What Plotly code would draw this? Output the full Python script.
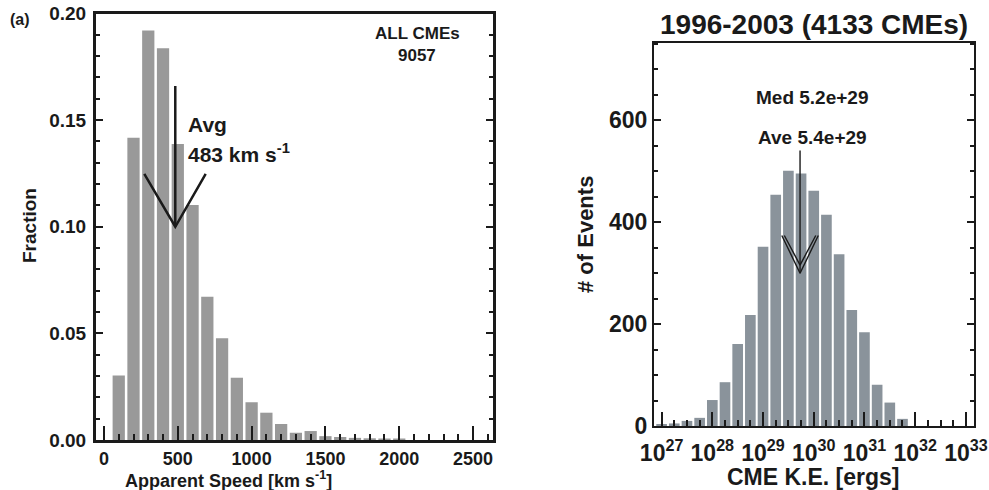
import plotly.graph_objects as go

# ---------------- data ----------------
# Panel (a): apparent speed histogram (bin centres, km/s) and fraction
speed_bins = [100, 200, 300, 400, 500, 600, 700, 800, 900, 1000, 1100, 1200,
              1300, 1400, 1500, 1600, 1700, 1800, 1900, 2000]
speed_frac = [0.0302, 0.1417, 0.1920, 0.1837, 0.1388, 0.1102, 0.0672, 0.0477,
              0.0292, 0.0177, 0.0128, 0.0075, 0.0034, 0.0042, 0.0018, 0.0014,
              0.0010, 0.0008, 0.0005, 0.0004]
avg_speed = 483

# Panel (b): CME kinetic energy histogram (log10 ergs bin centres) and counts
ke_log_bins = [27.0, 27.25, 27.5, 27.75, 28.0, 28.25, 28.5, 28.75, 29.0, 29.25,
               29.5, 29.75, 30.0, 30.25, 30.5, 30.75, 31.0, 31.25, 31.5, 31.75]
ke_counts = [2, 5, 10, 16, 51, 86, 161, 218, 352, 454,
             501, 496, 462, 415, 337, 228, 184, 81, 46, 14]
ave_ke_log = 29.73

x_ticks_a = [0, 500, 1000, 1500, 2000, 2500]
y_ticks_a = [0.00, 0.05, 0.10, 0.15, 0.20]
y_ticklabels_a = ["0.00", "0.05", "0.10", "0.15", "0.20"]
x_ticks_b = [27, 28, 29, 30, 31, 32, 33]
x_ticklabels_b = ["10<sup>%d</sup>" % v for v in x_ticks_b]
y_ticks_b = [0, 200, 400, 600]

# ---------------- styling ----------------
W, H = 989, 490
FONT = "Liberation Sans"
BLACK = "#1a1a1a"


def px(x):
    return x / W


def py(y):
    return 1 - y / H


fig = go.Figure()

fig.add_trace(go.Bar(x=speed_bins, y=speed_frac, width=83,
                     marker=dict(color="#999999", line=dict(width=0)),
                     xaxis="x", yaxis="y", showlegend=False))
fig.add_trace(go.Bar(x=ke_log_bins, y=ke_counts, width=0.21,
                     marker=dict(color="#8a939b", line=dict(width=0)),
                     xaxis="x2", yaxis="y2", showlegend=False))

# arrows as line traces
fig.add_trace(go.Scatter(
    x=[avg_speed, avg_speed, None, avg_speed - 210, avg_speed, avg_speed + 206],
    y=[0.166, 0.100, None, 0.1248, 0.100, 0.1248],
    mode="lines", line=dict(color=BLACK, width=2.5),
    xaxis="x", yaxis="y", showlegend=False, hoverinfo="skip"))
fig.add_trace(go.Scatter(
    x=[ave_ke_log, ave_ke_log, None,
       ave_ke_log - 0.36, ave_ke_log, ave_ke_log + 0.36, None,
       ave_ke_log - 0.31, ave_ke_log, ave_ke_log + 0.31],
    y=[541, 300, None, 374, 300, 374, None, 374, 316, 374],
    mode="lines", line=dict(color=BLACK, width=1.4),
    xaxis="x2", yaxis="y2", showlegend=False, hoverinfo="skip"))

tickfont_a = dict(family=FONT, size=19, color=BLACK, weight="bold")
tickfont_ax = dict(family=FONT, size=18, color=BLACK, weight="bold")
tickfont_b = dict(family=FONT, size=23, color=BLACK, weight="bold")

fig.update_layout(
    width=W, height=H,
    margin=dict(l=0, r=0, t=0, b=0, autoexpand=False),
    paper_bgcolor="white", plot_bgcolor="white",
    font=dict(family=FONT, color=BLACK),
    xaxis=dict(domain=[px(96), px(493)], range=[-54, 2635],
               tickvals=x_ticks_a, ticks="inside", ticklen=14, tickwidth=2,
               tickcolor=BLACK, showline=True, linewidth=3, linecolor=BLACK,
               mirror=True, showgrid=False, zeroline=False,
               tickfont=tickfont_ax, anchor="y", ticklabelstandoff=0,
               minor=dict(dtick=100, ticks="inside", ticklen=6, tickwidth=2,
                          tickcolor=BLACK, showgrid=False)),
    yaxis=dict(domain=[py(440), py(13.5)], range=[0, 0.2],
               tickvals=y_ticks_a, ticktext=y_ticklabels_a,
               ticks="inside", ticklen=7, tickwidth=2, tickcolor=BLACK,
               showline=True, linewidth=3, linecolor=BLACK, mirror="ticks",
               showgrid=False, zeroline=False, tickfont=tickfont_a, anchor="x",
               ticklabelstandoff=3,
               minor=dict(dtick=0.01, ticks="inside", ticklen=4, tickwidth=2,
                          tickcolor=BLACK, showgrid=False)),
    xaxis2=dict(domain=[px(654), px(974)], range=[26.85, 33.16],
                tickvals=x_ticks_b, ticktext=x_ticklabels_b,
                ticks="inside", ticklen=14, tickwidth=2, tickcolor=BLACK,
                showline=True, linewidth=2, linecolor=BLACK, mirror=True,
                showgrid=False, zeroline=False, tickfont=tickfont_b, anchor="y2",
                ticklabelstandoff=5,
                minor=dict(dtick=0.25, tick0=27, ticks="inside", ticklen=6,
                           tickwidth=2, tickcolor=BLACK, showgrid=False)),
    yaxis2=dict(domain=[py(426), py(43)], range=[0, 752],
                tickvals=y_ticks_b, ticks="inside", ticklen=7, tickwidth=1.5,
                tickcolor=BLACK, showline=True, linewidth=2, linecolor=BLACK,
                mirror="ticks", showgrid=False, zeroline=False,
                tickfont=tickfont_b, anchor="x2", ticklabelstandoff=0,
                minor=dict(dtick=50, ticks="inside", ticklen=4, tickwidth=1.5,
                           tickcolor=BLACK, showgrid=False)),
)


def ann(text, x, y, size, **kw):
    d = dict(text=text, x=px(x), y=py(y), xref="paper", yref="paper",
             showarrow=False, xanchor="center", yanchor="middle",
             font=dict(family=FONT, size=size, color=BLACK, weight="bold"))
    d.update(kw)
    fig.add_annotation(**d)


ann("(a)", 20, 19, 16)
ann("ALL CMEs", 417, 33, 17)
ann("9057", 417, 55, 17)
ann("Fraction", 29, 226, 19, textangle=-90)
ann("Apparent Speed [km s<sup>-1</sup>]", 228, 479, 18)
ann("Avg", 186, 125, 21, xanchor="left")
ann("483 km s<sup>-1</sup>", 186, 153, 21, xanchor="left")

ann("1996-2003 (4133 CMEs)", 814, 24, 28)
ann("Med 5.2e+29", 812, 98, 19)
ann("Ave 5.4e+29", 812, 137, 19)
ann("# of Events", 585, 235, 22, textangle=-90)
ann("CME K.E. [ergs]", 813, 477, 23)

fig.write_html("out.html")
